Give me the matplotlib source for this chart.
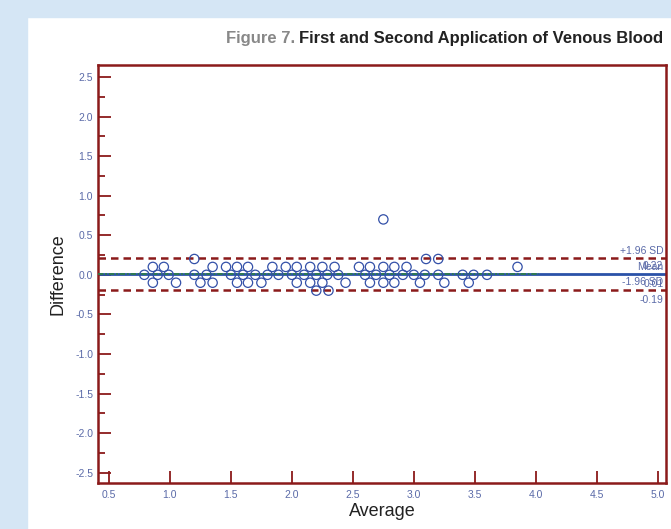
import matplotlib.pyplot as plt
from matplotlib.patches import Rectangle
from matplotlib.ticker import MultipleLocator

plt.rcParams['font.family'] = ['Liberation Sans', 'DejaVu Sans']
plt.rcParams['axes.unicode_minus'] = False

# Bland-Altman points (average, difference)
avg_p20 = [1.20, 3.10, 3.20]
avg_p10 = [0.86, 0.95, 1.35, 1.46, 1.55, 1.64, 1.84, 1.95, 2.04, 2.15, 2.25, 2.35,
           2.55, 2.64, 2.75, 2.84, 2.94, 3.85]
avg_p00 = [0.79, 0.90, 0.99, 1.20, 1.30, 1.50, 1.60, 1.70, 1.80, 1.89, 2.00, 2.10,
           2.20, 2.29, 2.38, 2.60, 2.69, 2.80, 2.91, 3.00, 3.09, 3.20, 3.40, 3.49, 3.60]
avg_m10 = [0.86, 1.05, 1.25, 1.35, 1.55, 1.64, 1.75, 2.04, 2.15, 2.25, 2.44, 2.64,
           2.75, 2.84, 3.05, 3.25, 3.45]
avg_m20 = [2.20, 2.30]
outlier = (2.75, 0.7)

mean_diff = 0.01
upper_sd = 0.21
lower_sd = -0.19

xs = avg_p20 + avg_p10 + avg_p00 + avg_m10 + avg_m20 + [outlier[0]]
ys = ([0.2] * len(avg_p20) + [0.1] * len(avg_p10) + [0.0] * len(avg_p00)
      + [-0.1] * len(avg_m10) + [-0.2] * len(avg_m20) + [outlier[1]])

red = '#8b1a1a'
tick_col = '#5a6aa8'

fig = plt.figure(figsize=(6.71, 5.29), dpi=100)
fig.patch.set_facecolor('white')
fig.patches.append(Rectangle((0, 0), 27 / 671, 1, transform=fig.transFigure,
                             color='#d5e6f5', zorder=-1))
fig.patches.append(Rectangle((0, 1 - 17 / 529), 1, 17 / 529, transform=fig.transFigure,
                             color='#d5e6f5', zorder=-1))

ax = fig.add_axes([0.146, 0.087, 0.847, 0.790])
ax.set_xlim(0.41, 5.07)
ax.set_ylim(-2.63, 2.65)

ax.axhline(mean_diff, color='#2a52a8', lw=2, zorder=2)
ax.plot([0.41, 4.03], [mean_diff, mean_diff], color='#2e7d4a', lw=1.3,
        ls=(0, (3, 1, 1, 1)), zorder=3)
ax.axhline(upper_sd, color=red, lw=1.8, ls=(0, (3, 2)), zorder=2)
ax.axhline(lower_sd, color=red, lw=1.8, ls=(0, (3, 2)), zorder=2)
ax.scatter(xs, ys, s=45, facecolors='none', edgecolors='#3350a8', linewidths=0.9, zorder=4)

# line labels on right
tk = dict(color=tick_col, fontsize=7.5, ha='right', transform=ax.get_yaxis_transform())
ax.text(0.995, upper_sd + 0.03, '+1.96 SD', va='bottom', **tk)
ax.text(0.995, upper_sd - 0.04, '0.22', va='top', **tk)
ax.text(0.995, mean_diff + 0.03, 'Mean', va='bottom', **tk)
ax.text(0.995, mean_diff - 0.06, '0.01', va='top', **tk)
ax.text(0.995, lower_sd + 0.03, '-1.96 SD', va='bottom', **tk)
ax.text(0.995, lower_sd - 0.06, '-0.19', va='top', **tk)

for s in ax.spines.values():
    s.set_color(red)
    s.set_linewidth(1.8)
ax.xaxis.set_major_locator(MultipleLocator(0.5))
ax.yaxis.set_major_locator(MultipleLocator(0.5))
ax.yaxis.set_minor_locator(MultipleLocator(0.25))
ax.tick_params(axis='both', which='major', direction='in', length=9, width=1.3,
               color=red, labelcolor=tick_col, labelsize=7.5)
ax.tick_params(axis='y', which='minor', direction='in', length=5, width=1.3, color=red)
ax.tick_params(axis='x', pad=5)
ax.set_xlabel('Average', fontsize=13, color='#222222', labelpad=2)
ax.set_ylabel('Difference', fontsize=13, color='#222222', labelpad=6)

# title: grey "Figure 7." followed by dark bold text, right aligned
title = fig.text(0.988, 0.927, 'First and Second Application of Venous Blood',
                 fontsize=12, fontweight='bold', color='#222222', ha='right', va='center')
fig.canvas.draw()
bb = title.get_window_extent()
fig.text(bb.x0 / fig.bbox.width - 0.006, 0.927, 'Figure 7.', fontsize=12,
         fontweight='bold', color='#888888', ha='right', va='center')

fig.savefig('out.png', dpi=100)
